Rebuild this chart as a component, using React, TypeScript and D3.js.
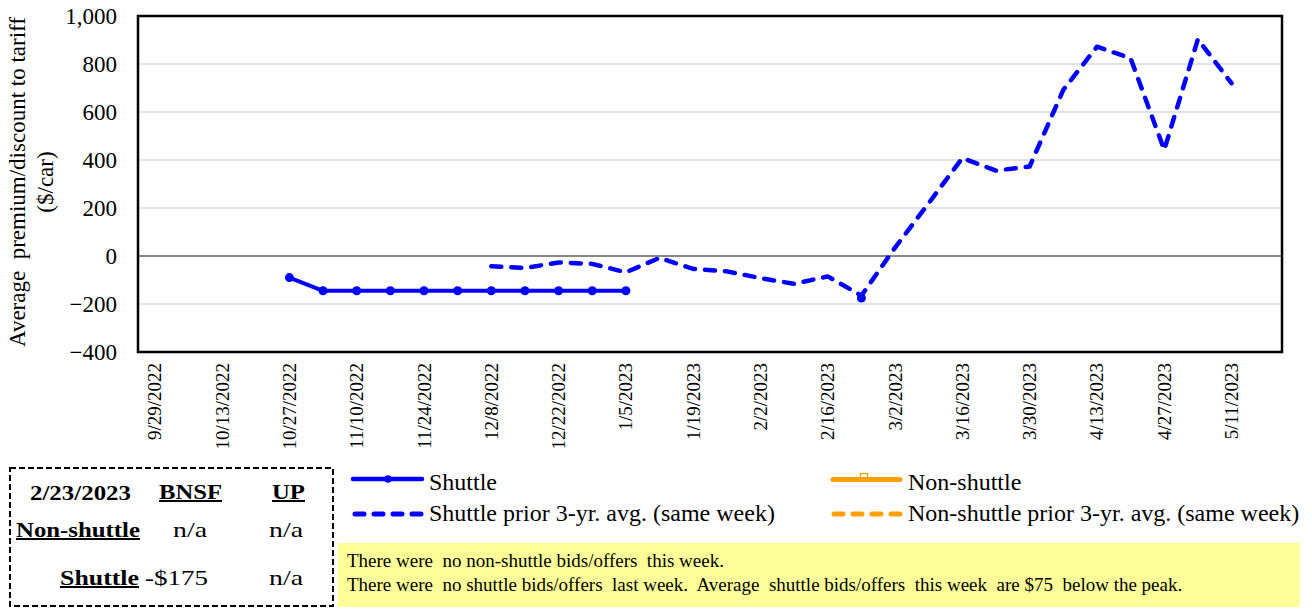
import React from "react";
import * as d3 from "d3";

const weeks = [
  "9/29/2022", "10/6/2022", "10/13/2022", "10/20/2022", "10/27/2022", "11/3/2022",
  "11/10/2022", "11/17/2022", "11/24/2022", "12/1/2022", "12/8/2022", "12/15/2022",
  "12/22/2022", "12/29/2022", "1/5/2023", "1/12/2023", "1/19/2023", "1/26/2023",
  "2/2/2023", "2/9/2023", "2/16/2023", "2/23/2023", "3/2/2023", "3/9/2023",
  "3/16/2023", "3/23/2023", "3/30/2023", "4/6/2023", "4/13/2023", "4/20/2023",
  "4/27/2023", "5/4/2023", "5/11/2023", "5/18/2023",
];

const tickLabels = [
  "9/29/2022", "10/13/2022", "10/27/2022", "11/10/2022", "11/24/2022", "12/8/2022",
  "12/22/2022", "1/5/2023", "1/19/2023", "2/2/2023", "2/16/2023", "3/2/2023",
  "3/16/2023", "3/30/2023", "4/13/2023", "4/27/2023", "5/11/2023",
];

const yTicks = [-400, -200, 0, 200, 400, 600, 800, 1000];

const N = null;
const shuttle: (number | null)[] = [
  N, N, N, N, -90, -145, -145, -145, -145, -145, -145, -145, -145, -145, -145,
  N, N, N, N, N, N, -175, N, N, N, N, N, N, N, N, N, N, N, N,
];
const shuttlePrior: (number | null)[] = [
  N, N, N, N, N, N, N, N, N, N, -43, -50, -27, -33, -68, -8, -54, -64, -92, -116,
  -85, -165, 35, 220, 408, 356, 373, 692, 872, 824, 442, 903, 720, N,
];
const nonShuttle: (number | null)[] = weeks.map(() => null);
const nonShuttlePrior: (number | null)[] = weeks.map(() => null);

const noteLines = [
  "There were  no non-shuttle bids/offers  this week.",
  "There were  no shuttle bids/offers  last week.  Average  shuttle bids/offers  this week  are $75  below the peak.",
];

const BLUE = "#0000FF";
const ORANGE = "#FFA000";
const FONT = "'Liberation Serif', 'Times New Roman', serif";

export default function App() {
  const left = 138, right = 1282, top = 16, bottom = 352;
  const x = d3.scaleBand<string>().domain(weeks).range([left, right]).padding(0);
  const y = d3.scaleLinear().domain([-400, 1000]).range([bottom, top]);
  const cx = (i: number) => (x(weeks[i]) as number) + x.bandwidth() / 2;

  const line = d3
    .line<number | null>()
    .defined((d) => d != null)
    .x((_, i) => cx(i))
    .y((d) => y(d as number));

  return (
    <svg width={1312} height={609} style={{ position: "absolute", left: 0, top: 0, fontFamily: FONT }}>
      <rect x={0} y={0} width={1312} height={609} fill="#fff" />
      {/* gridlines */}
      {yTicks.filter((t) => t !== -400 && t !== 1000).map((t) => (
        <line key={t} x1={left} x2={right} y1={y(t)} y2={y(t)}
          stroke={t === 0 ? "#5e5e5e" : "#d9d9d9"} strokeWidth={t === 0 ? 1.3 : 1.5} />
      ))}
      {/* y tick labels */}
      {yTicks.map((t) => (
        <text key={t} x={117} y={y(t)} textAnchor="end" dominantBaseline="central" fontSize={23} fill="#000">
          {d3.format(",")(t)}
        </text>
      ))}
      {/* y title */}
      <text transform="translate(25,182) rotate(-90)" textAnchor="middle" fontSize={23} fill="#000" style={{ whiteSpace: "pre" }}>
        {"Average  premium/discount to tariff"}
      </text>
      <text transform="translate(53,182) rotate(-90)" textAnchor="middle" fontSize={23} fill="#000">
        ($/car)
      </text>
      {/* x tick labels */}
      {tickLabels.map((lab) => (
        <text key={lab} transform={`translate(${(x(lab) as number) + x.bandwidth() / 2},363) rotate(-90)`}
          textAnchor="end" dominantBaseline="central" fontSize={19} fill="#000">
          {lab}
        </text>
      ))}
      {/* series */}
      <path d={line(nonShuttlePrior) || ""} fill="none" stroke={ORANGE} strokeWidth={4.5} strokeDasharray="10,10" strokeLinecap="round" />
      <path d={line(nonShuttle) || ""} fill="none" stroke={ORANGE} strokeWidth={4.5} />
      <path d={line(shuttlePrior) || ""} fill="none" stroke={BLUE} strokeWidth={4.5}
        strokeDasharray="10,10" strokeLinecap="round" strokeLinejoin="round" />
      <path d={line(shuttle) || ""} fill="none" stroke={BLUE} strokeWidth={4} strokeLinejoin="round" />
      {shuttle.map((v, i) => v == null ? null : (
        <circle key={i} cx={cx(i)} cy={y(v)} r={4.5} fill={BLUE} />
      ))}
      {/* plot border */}
      <rect x={left} y={top} width={right - left} height={bottom - top} fill="none" stroke="#000" strokeWidth={2.5} />

      {/* legend */}
      <g fontSize={24} fill="#000">
        <line x1={353} x2={422} y1={479} y2={479} stroke={BLUE} strokeWidth={4.5} strokeLinecap="round" />
        <circle cx={388} cy={479} r={3.8} fill={BLUE} />
        <text x={429} y={490}>Shuttle</text>
        <line x1={355} x2={422} y1={514} y2={514} stroke={BLUE} strokeWidth={5} strokeDasharray="9,10" strokeLinecap="round" />
        <text x={429} y={521}>Shuttle prior 3-yr. avg. (same week)</text>

        <rect x={860.5} y={473.5} width={7} height={6} fill="#fff" stroke={ORANGE} strokeWidth={1.3} />
        <line x1={833} x2={900} y1={479.5} y2={479.5} stroke={ORANGE} strokeWidth={5} strokeLinecap="round" />
        <text x={908} y={490}>Non-shuttle</text>
        <line x1={834} x2={901} y1={514} y2={514} stroke={ORANGE} strokeWidth={5} strokeDasharray="9,10" strokeLinecap="round" />
        <text x={908} y={521}>Non-shuttle prior 3-yr. avg. (same week)</text>
      </g>

      {/* table */}
      <rect x={10} y={468} width={323} height={138} fill="#fff" stroke="#000" strokeWidth={2} strokeDasharray="6,3" />
      <g fontSize={20} fontWeight="bold" fill="#000">
        <text x={30} y={500} textLength={101} lengthAdjust="spacingAndGlyphs">2/23/2023</text>
        <text x={159} y={499} textLength={63} lengthAdjust="spacingAndGlyphs" textDecoration="underline">BNSF</text>
        <text x={272} y={499} textLength={33} lengthAdjust="spacingAndGlyphs" textDecoration="underline">UP</text>
        <text x={16} y={537} textLength={124} lengthAdjust="spacingAndGlyphs" textDecoration="underline">Non-shuttle</text>
        <text x={60} y={585} textLength={79} lengthAdjust="spacingAndGlyphs" textDecoration="underline">Shuttle</text>
      </g>
      <g fontSize={22} fill="#000">
        <text x={173} y={537} textLength={34} lengthAdjust="spacingAndGlyphs">n/a</text>
        <text x={269} y={537} textLength={34} lengthAdjust="spacingAndGlyphs">n/a</text>
        <text x={145} y={585} textLength={63} lengthAdjust="spacingAndGlyphs">-$175</text>
        <text x={269} y={585} textLength={34} lengthAdjust="spacingAndGlyphs">n/a</text>
      </g>

      {/* note */}
      <rect x={338} y={543} width={962} height={64} fill="#FFFF99" />
      <g fontSize={19} fill="#000" style={{ whiteSpace: "pre" }}>
        {noteLines.map((l, i) => (
          <text key={i} x={347} y={567 + i * 23.5} style={{ whiteSpace: "pre" }}>{l}</text>
        ))}
      </g>
    </svg>
  );
}
